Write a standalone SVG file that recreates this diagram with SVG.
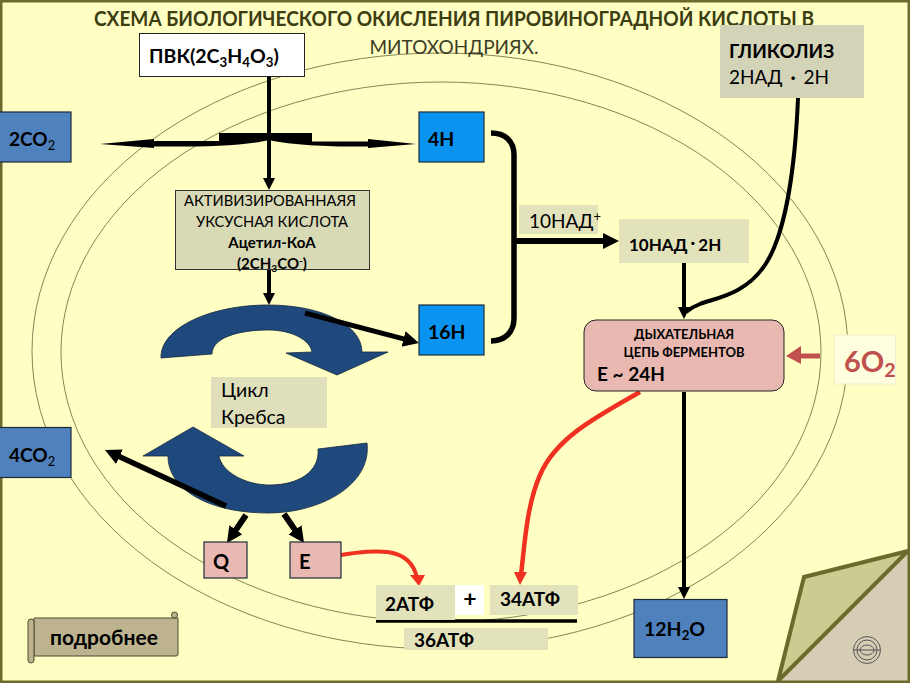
<svg xmlns="http://www.w3.org/2000/svg" width="910" height="683" viewBox="0 0 910 683">
<style>
text{font-family:Lato,"Open Sans","Liberation Sans",sans-serif;fill:#000}
.b{font-weight:700}
.box{stroke:#1c2a3a;stroke-width:1.2}
.thin{fill:none;stroke:#66663c;stroke-width:.8}
.bk{fill:none;stroke:#000;stroke-linecap:butt}
.krebs{fill:#1f497d;stroke:#14273f;stroke-width:.8}
.s{font-size:.68em}
</style>
<defs>
<marker id="ah" markerUnits="userSpaceOnUse" markerWidth="14" markerHeight="14" refX="1" refY="6" orient="auto"><path d="M0 0L12 6L0 12z" fill="#000"/></marker>
<marker id="ahL" markerUnits="userSpaceOnUse" markerWidth="18" markerHeight="18" refX="1" refY="8" orient="auto"><path d="M0 0L16 8L0 16z" fill="#000"/></marker>
</defs>
<rect width="910" height="683" fill="#ffffc4"/>
<g id="membranes">
<ellipse class="thin" cx="440" cy="351" rx="408" ry="298"/>
<ellipse class="thin" cx="441" cy="352" rx="380" ry="270"/>
</g>
<g id="page-curl">
<path d="M908 552L778 682H908z" fill="#d6cdb5"/>
<path d="M908 551L804 577L778 681z" fill="#cccc90" stroke="#6b6b2c" stroke-width="4" stroke-linejoin="miter"/>
<g fill="none" stroke="#555" stroke-width="1"><circle cx="867" cy="650" r="13.500"/><circle cx="867" cy="650" r="10"/><ellipse cx="867" cy="650" rx="7" ry="5"/><path d="M854 650h26"/></g>
</g>
<rect x="1" y="1" width="908" height="681" fill="none" stroke="#6b6b2c" stroke-width="3"/>
<g id="title">
<text class="b" x="454" y="26" font-size="20.500" text-anchor="middle" style="fill:#3d3d12" textLength="720" lengthAdjust="spacingAndGlyphs">СХЕМА БИОЛОГИЧЕСКОГО ОКИСЛЕНИЯ ПИРОВИНОГРАДНОЙ КИСЛОТЫ В</text>
<text x="454" y="54" font-size="20" text-anchor="middle" style="fill:#3d3d25" textLength="169" lengthAdjust="spacingAndGlyphs">МИТОХОНДРИЯХ.</text>
</g>
<g id="krebs-cycle">
<path class="krebs" d="M161 358C160 328 210 305 268 305C322 305 362 325 362 352H388L337 375L286 353L312 352C310 340 292 330 268 330C238 330 212 338 212 354z"/>
<path class="krebs" d="M367 443C372 485 320 513 268 513C210 513 168 490 168 456H143L193 427L244 456H219C222 472 245 485 270 485C298 485 320 472 318 449z"/>
</g>
<g id="connectors">
<path d="M100 144L154 139V141H219V133H312V141.500H368V139L416 144L368 148V146.500C340 147 295 146 269 140C245 146 200 147 154 146.500V148z" fill="#000"/>
<path class="bk" stroke-width="4" d="M269 77V179" marker-end="url(#ah)"/>
<path class="bk" stroke-width="4" d="M269 270V294" marker-end="url(#ah)"/>
<path class="bk" stroke-width="5" d="M305 313L404.500 339.200" marker-end="url(#ahL)"/>
<path class="bk" stroke-width="5.500" d="M491 133C505 133 514 141 514 155V318C514 332 505 341 491 341"/>
<path class="bk" stroke-width="6" d="M514 241H604" marker-end="url(#ahL)"/>
<path class="bk" stroke-width="4" d="M684 263V308" marker-end="url(#ah)"/>
<path class="bk" stroke-width="4" d="M798 98C795 170 785 235 765 265C745 295 715 298 700 304Q692 307 686 312"/>
<path class="bk" stroke-width="4" d="M684 392V588" marker-end="url(#ah)"/>
<path class="bk" stroke-width="5.500" d="M226 506L118.600 456.300" marker-end="url(#ahL)"/>
<path class="bk" stroke-width="6" d="M246 515L235.400 530.600" marker-end="url(#ahL)"/>
<path class="bk" stroke-width="6" d="M284 514L295.500 530.600" marker-end="url(#ahL)"/>
<path fill="none" stroke="#f03020" stroke-width="4" d="M341 555C375 550 410 545 417 578"/>
<path d="M410 575L425 575L419 586z" fill="#f03020"/>
<path fill="none" stroke="#f03020" stroke-width="4.500" d="M640 392C590 420 555 440 540 475C527 505 525 540 521 575"/>
<path d="M514 572L527 572L520 585z" fill="#f03020"/>
<path fill="none" stroke="#c0504d" stroke-width="5" d="M820 356H795"/>
<path d="M801 346L786 356L801 364z" fill="#c0504d"/>
<path class="bk" stroke-width="3.500" d="M376 621H577"/>
</g>
<g id="n-pvk"><rect x="139.500" y="33.500" width="165" height="43" fill="#fff" stroke="#222" stroke-width="1"/><text class="b" x="149" y="63" font-size="19.500">ПВК(2С<tspan class="s" dy="4">3</tspan><tspan dy="-4">Н</tspan><tspan class="s" dy="4">4</tspan><tspan dy="-4">О</tspan><tspan class="s" dy="4">3</tspan><tspan dy="-4">)</tspan></text></g>
<g id="n-2co2"><rect x="-1" y="112" width="72" height="50" fill="#4f81bd" class="box"/><text class="b" x="9" y="146" font-size="19">2СО<tspan class="s" dy="4" style="font-weight:400">2</tspan></text></g>
<g id="n-4h"><rect x="419" y="112" width="65" height="50" fill="#0a94f0" class="box"/><text class="b" x="428" y="146" font-size="19.500">4Н</text></g>
<g id="n-16h"><rect x="419" y="305" width="65" height="50" fill="#0a94f0" class="box"/><text class="b" x="428" y="339" font-size="19.500">16Н</text></g>
<g id="n-acetyl"><rect x="175.500" y="190.500" width="194" height="79" fill="#d8d9b5" stroke="#333" stroke-width="1"/>
<text x="270" y="206" font-size="16" text-anchor="middle" textLength="172" lengthAdjust="spacingAndGlyphs">АКТИВИЗИРОВАННАЯЯ</text>
<text x="272" y="227" font-size="16" text-anchor="middle" textLength="152" lengthAdjust="spacingAndGlyphs">УКСУСНАЯ КИСЛОТА</text>
<text class="b" x="272" y="248" font-size="15" text-anchor="middle">Ацетил-КоА</text>
<text class="b" x="272" y="269" font-size="15" text-anchor="middle">(2СН<tspan class="s" dy="3">3</tspan><tspan dy="-3">СО</tspan><tspan class="s" dy="-5">-</tspan><tspan dy="5">)</tspan></text></g>
<g id="n-nad-plus"><rect x="519" y="205" width="79" height="29" fill="#e2e2bb"/><text x="529" y="228" font-size="19">10НАД<tspan class="s" dy="-7">+</tspan></text></g>
<g id="n-nad2h"><rect x="619" y="219" width="130" height="44" fill="#e2e2bb"/><text class="b" x="629" y="251" font-size="17">10НАД<tspan dx="3" dy="-2">·</tspan><tspan dx="3" dy="2">2Н</tspan></text></g>
<g id="n-glycolysis"><rect x="720" y="25" width="144" height="73" fill="#d3d3b8"/><text class="b" x="729" y="58" font-size="19">ГЛИКОЛИЗ</text><text x="729" y="84" font-size="19">2НАД <tspan dx="3" class="b">·</tspan><tspan dx="3"> 2Н</tspan></text></g>
<g id="n-chain"><rect x="584" y="320" width="200" height="71" rx="12" ry="12" fill="#e9b8b0" stroke="#222" stroke-width="1"/>
<text class="b" x="684" y="339" font-size="13" text-anchor="middle">ДЫХАТЕЛЬНАЯ</text>
<text class="b" x="684" y="357" font-size="13" text-anchor="middle">ЦЕПЬ ФЕРМЕНТОВ</text>
<text class="b" x="597" y="381" font-size="19">Е ~ 24Н</text></g>
<g id="n-6o2"><rect x="834.500" y="335" width="61" height="49" fill="#ffffdf" stroke="#f0f0d0" stroke-width="1"/><text class="b" x="844" y="372" font-size="29" style="fill:#c0504d">6О<tspan class="s" dy="5">2</tspan></text></g>
<g id="n-krebs-label"><rect x="211" y="377" width="116" height="51" fill="#dfe0bb"/><text x="221" y="397" font-size="19.500">Цикл</text><text x="221" y="424" font-size="19.500">Кребса</text></g>
<g id="n-4co2"><rect x="-1" y="427.500" width="72" height="50" fill="#4f81bd" class="box"/><text class="b" x="9" y="462" font-size="19">4СО<tspan class="s" dy="4" style="font-weight:400">2</tspan></text></g>
<g id="n-q"><rect x="204" y="542" width="43" height="36" fill="#e9b8b0" class="box"/><text class="b" x="213" y="569" font-size="20">Q</text></g>
<g id="n-e"><rect x="290" y="542" width="51" height="36" fill="#e9b8b0" class="box"/><text class="b" x="299" y="569" font-size="20">Е</text></g>
<g id="n-2atp"><rect x="376" y="585" width="79" height="35" fill="#e2e2bb"/><text class="b" x="385" y="611" font-size="19">2АТФ</text></g>
<g id="n-plus"><rect x="455" y="585" width="29" height="30" fill="#fff"/><text class="b" x="470" y="607" font-size="23" text-anchor="middle">+</text></g>
<g id="n-34atp"><rect x="490" y="585" width="88" height="30" fill="#e2e2bb"/><text class="b" x="500" y="606" font-size="19">34АТФ</text></g>
<g id="n-36atp"><rect x="404" y="628" width="144" height="22" fill="#e2e2bb"/><text class="b" x="414" y="647" font-size="19">36АТФ</text></g>
<g id="n-12h2o"><rect x="634" y="599.500" width="93" height="58" fill="#4f81bd" class="box"/><text class="b" x="644" y="636" font-size="19.500">12Н<tspan class="s" dy="4">2</tspan><tspan dy="-4">О</tspan></text></g>
<g id="n-more">
<path d="M34 618H178V654Q178 656 176 656H34z" fill="#bdb48f" stroke="#4a4a30" stroke-width="1"/>
<path d="M28 622a3 3 0 0 1 6 0V660a3 3 0 0 1 -6 0z" fill="#bdb48f" stroke="#4a4a30" stroke-width="1"/>
<circle cx="174.500" cy="615" r="3" fill="#bdb48f" stroke="#4a4a30" stroke-width="1"/>
<text class="b" x="104" y="645" font-size="21" text-anchor="middle">подробнее</text></g>
</svg>
